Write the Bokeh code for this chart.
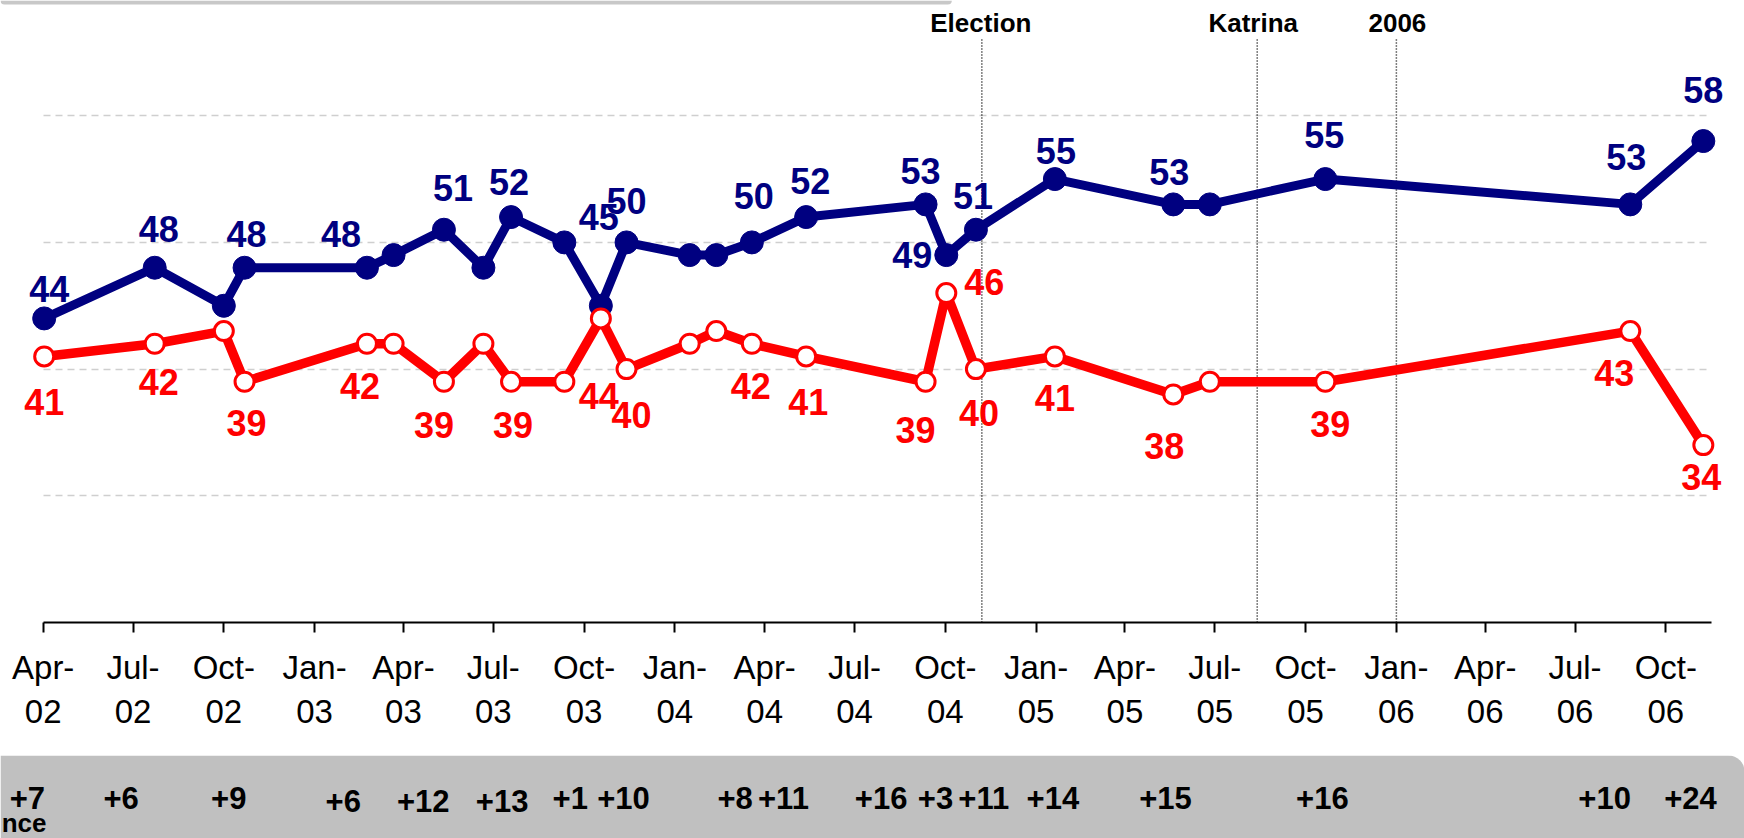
import pandas as pd
from bokeh.plotting import figure
from bokeh.layouts import column
from bokeh.models import (Range1d, FixedTicker, DatetimeTickFormatter, BoxAnnotation,
                          ColumnDataSource)
from bokeh.core.properties import value
from bokeh.embed import file_html
from bokeh.resources import INLINE

# ---------------- data ----------------
poll_dates = ["2002-04-02", "2002-07-23", "2002-10-01", "2002-10-22", "2003-02-23",
              "2003-03-22", "2003-05-12", "2003-06-21", "2003-07-19", "2003-09-11",
              "2003-10-18", "2003-11-13", "2004-01-16", "2004-02-12", "2004-03-19",
              "2004-05-13", "2004-09-11", "2004-10-02", "2004-11-01", "2005-01-20",
              "2005-05-20", "2005-06-26", "2005-10-21", "2006-08-26", "2006-11-08"]
dem = [44, 48, 45, 48, 48, 49, 51, 48, 52, 50, 45, 50, 49, 49, 50, 52, 53, 49, 51, 55,
       53, 53, 55, 53, 58]
rep = [41, 42, 43, 39, 42, 42, 39, 42, 39, 39, 44, 40, 42, 43, 42, 41, 39, 46, 40, 41,
       38, 39, 39, 43, 34]
labeled = [1, 1, 0, 1, 1, 0, 1, 0, 1, 0, 1, 1, 0, 0, 1, 1, 1, 1, 1, 1, 1, 0, 1, 1, 1]

diff_labels = ["+7", "+6", "+9", "+6", "+12", "+13", "+1", "+10", "+8", "+11", "+16",
               "+3", "+11", "+14", "+15", "+16", "+10", "+24"]
diff_dates = ["2002-03-16", "2002-06-19", "2002-10-06", "2003-01-30", "2003-04-21",
              "2003-07-10", "2003-09-17", "2003-11-10", "2004-03-02", "2004-04-20",
              "2004-07-28", "2004-09-21", "2004-11-09", "2005-01-18", "2005-05-12",
              "2005-10-18", "2006-07-31", "2006-10-26"]
diff_caption = "nce"   # visible tail of the cut-off "Difference" caption

event_labels = ["Election", "Katrina", "2006"]
event_dates = ["2004-11-07", "2005-08-13", "2006-01-01"]

tick_dates = ["2002-04-01", "2002-07-01", "2002-10-01", "2003-01-01", "2003-04-01",
              "2003-07-01", "2003-10-01", "2004-01-01", "2004-04-01", "2004-07-01",
              "2004-10-01", "2005-01-01", "2005-04-01", "2005-07-01", "2005-10-01",
              "2006-01-01", "2006-04-01", "2006-07-01", "2006-10-01"]
gridline_values = [30, 40, 50, 60]
axis_end_date = "2006-11-16"

# ---------------- label placement (style, px) ----------------
dem_lbl_dx = [5, 4, 2, -26, 9, -2, -2, 0, 2, 4, -5, -34, -3, 1, -4, -1, -4, 0]
dem_lbl_dy = [-29, -39, -34, -34, -42, -35, -89, -41, -46, -36, -33, 0, -34, -28, -32, -44, -47, -51]
rep_lbl_dx = [0, 4, 2, -7, -10, 2, -2, 5, -1, 2, -10, 38, 3, 0, -9, 5, -16, -2]
rep_lbl_dy = [46, 38, 41, 42, 43, 43, 78, 46, 42, 46, 48, -11, 44, 42, 52, 42, 42, 32]
diff_dy = [42, 42, 42, 45, 45, 45, 42, 42, 42, 42, 42, 42, 42, 42, 42, 42, 42, 42]
event_dx = [-1, -4, 1]

NAVY = "#000080"
RED = "#FF0000"
FONT = value("Liberation Sans")

W = 1744
MAIN_H = 755
FRAME_H = 622
BAND_H = 83
PX_PER_DAY = 0.987
PX_PER_UNIT = 12.67

t0 = pd.Timestamp(tick_dates[0])
x_start = t0 - pd.Timedelta(days=42.7 / PX_PER_DAY)
x_end = x_start + pd.Timedelta(days=W / PX_PER_DAY)
y_start = 20
y_end = y_start + FRAME_H / PX_PER_UNIT


def ms(t):
    return pd.Timestamp(t).value / 1e6


dates = pd.to_datetime(poll_dates)
src = ColumnDataSource(dict(x=dates, dem=dem, rep=rep))

lab_idx = [i for i, f in enumerate(labeled) if f]
dem_lab = ColumnDataSource(dict(x=[dates[i] for i in lab_idx], y=[dem[i] for i in lab_idx],
                                t=[str(dem[i]) for i in lab_idx], dx=dem_lbl_dx, dy=dem_lbl_dy))
rep_lab = ColumnDataSource(dict(x=[dates[i] for i in lab_idx], y=[rep[i] for i in lab_idx],
                                t=[str(rep[i]) for i in lab_idx], dx=rep_lbl_dx, dy=rep_lbl_dy))

# ---------------- main figure ----------------
p = figure(width=W, height=MAIN_H, x_axis_type="datetime",
           x_range=Range1d(x_start, x_end), y_range=Range1d(y_start, y_end),
           output_backend="svg", toolbar_location=None,
           min_border_left=0, min_border_right=0, min_border_top=0,
           min_border_bottom=MAIN_H - FRAME_H)
p.outline_line_color = None
p.background_fill_color = "white"
p.border_fill_color = "white"
p.yaxis.visible = False
p.xgrid.visible = False

p.ygrid.ticker = FixedTicker(ticks=gridline_values)
p.ygrid.grid_line_color = "#CFCFCF"
p.ygrid.grid_line_dash = "7 5"
p.ygrid.grid_line_width = 1.5
p.ygrid.cross_bounds = (ms(tick_dates[0]), ms(axis_end_date))

xa = p.xaxis[0]
xa.ticker = FixedTicker(ticks=[ms(d) for d in tick_dates])
fmt = "%b-\n%y"
xa.formatter = DatetimeTickFormatter(milliseconds=fmt, seconds=fmt, minsec=fmt, minutes=fmt,
                                     hourmin=fmt, hours=fmt, days=fmt, months=fmt, years=fmt)
xa.bounds = (ms(tick_dates[0]), ms(axis_end_date))
xa.axis_line_color = "black"
xa.axis_line_width = 2
xa.major_tick_line_color = "black"
xa.major_tick_line_width = 2
xa.major_tick_out = 10
xa.major_tick_in = 0
xa.minor_tick_line_color = None
xa.major_label_standoff = 16
xa.major_label_text_font = "Liberation Sans"
xa.major_label_text_font_size = "33px"
xa.major_label_text_color = "black"
xa.major_label_text_line_height = 1.2

# grey edge of the box above the chart
p.add_layout(BoxAnnotation(left=ms(x_start), right=ms(event_dates[0]) - 30 / PX_PER_DAY * 864e5,
                           top=y_end, bottom=y_end - 4 / PX_PER_UNIT,
                           fill_color="#C8C8C8", fill_alpha=1, line_color=None,
                           border_radius=(0, 0, 4, 4), level="underlay"))

# event lines
ev_dates = pd.to_datetime(event_dates)
p.segment(x0=ev_dates, y0=[y_start] * 3, x1=ev_dates, y1=[y_end - 38 / PX_PER_UNIT] * 3,
          line_color="black", line_width=1.5, line_dash="1 2")
p.text(x=ev_dates, y=[y_end] * 3, text=event_labels, x_offset=event_dx, y_offset=22,
       text_font=FONT, text_font_style="bold", text_font_size="26px",
       text_align="center", text_baseline="middle", text_color="black")

# series
p.line("x", "dem", source=src, line_color=NAVY, line_width=9, line_join="round")
p.scatter("x", "dem", source=src, marker="circle", size=23, fill_color=NAVY,
          line_color=NAVY, line_width=1)
p.line("x", "rep", source=src, line_color=RED, line_width=9.5, line_join="round")
p.scatter("x", "rep", source=src, marker="circle", size=19, fill_color="white",
          line_color=RED, line_width=3)

p.text(x="x", y="y", text="t", x_offset="dx", y_offset="dy", source=dem_lab,
       text_font=FONT, text_font_style="bold", text_font_size="36px",
       text_align="center", text_baseline="middle", text_color=NAVY)
p.text(x="x", y="y", text="t", x_offset="dx", y_offset="dy", source=rep_lab,
       text_font=FONT, text_font_style="bold", text_font_size="36px",
       text_align="center", text_baseline="middle", text_color=RED)

# ---------------- difference band ----------------
p2 = figure(width=W, height=BAND_H, x_range=p.x_range, y_range=Range1d(BAND_H, 0),
            x_axis_type="datetime", output_backend="svg", toolbar_location=None,
            min_border=0)
p2.axis.visible = False
p2.grid.visible = False
p2.outline_line_color = None
p2.background_fill_color = "white"
p2.border_fill_color = "white"
p2.add_layout(BoxAnnotation(left=ms(x_start), right=ms(x_end), top=0, bottom=BAND_H,
                            fill_color="#C0C0C0", fill_alpha=1, line_color=None,
                            border_radius=(0, 16, 0, 0), level="underlay"))
p2.text(x=pd.to_datetime(diff_dates), y=diff_dy, text=diff_labels,
        text_font=FONT, text_font_style="bold", text_font_size="31px",
        text_align="center", text_baseline="middle", text_color="black")
p2.text(x=[x_start], y=[67], text=[diff_caption], x_offset=46,
        text_font=FONT, text_font_style="bold", text_font_size="26px",
        text_align="right", text_baseline="middle", text_color="black")

layout = column(p, p2, spacing=0)
open("out.html", "w").write(file_html(layout, INLINE))
